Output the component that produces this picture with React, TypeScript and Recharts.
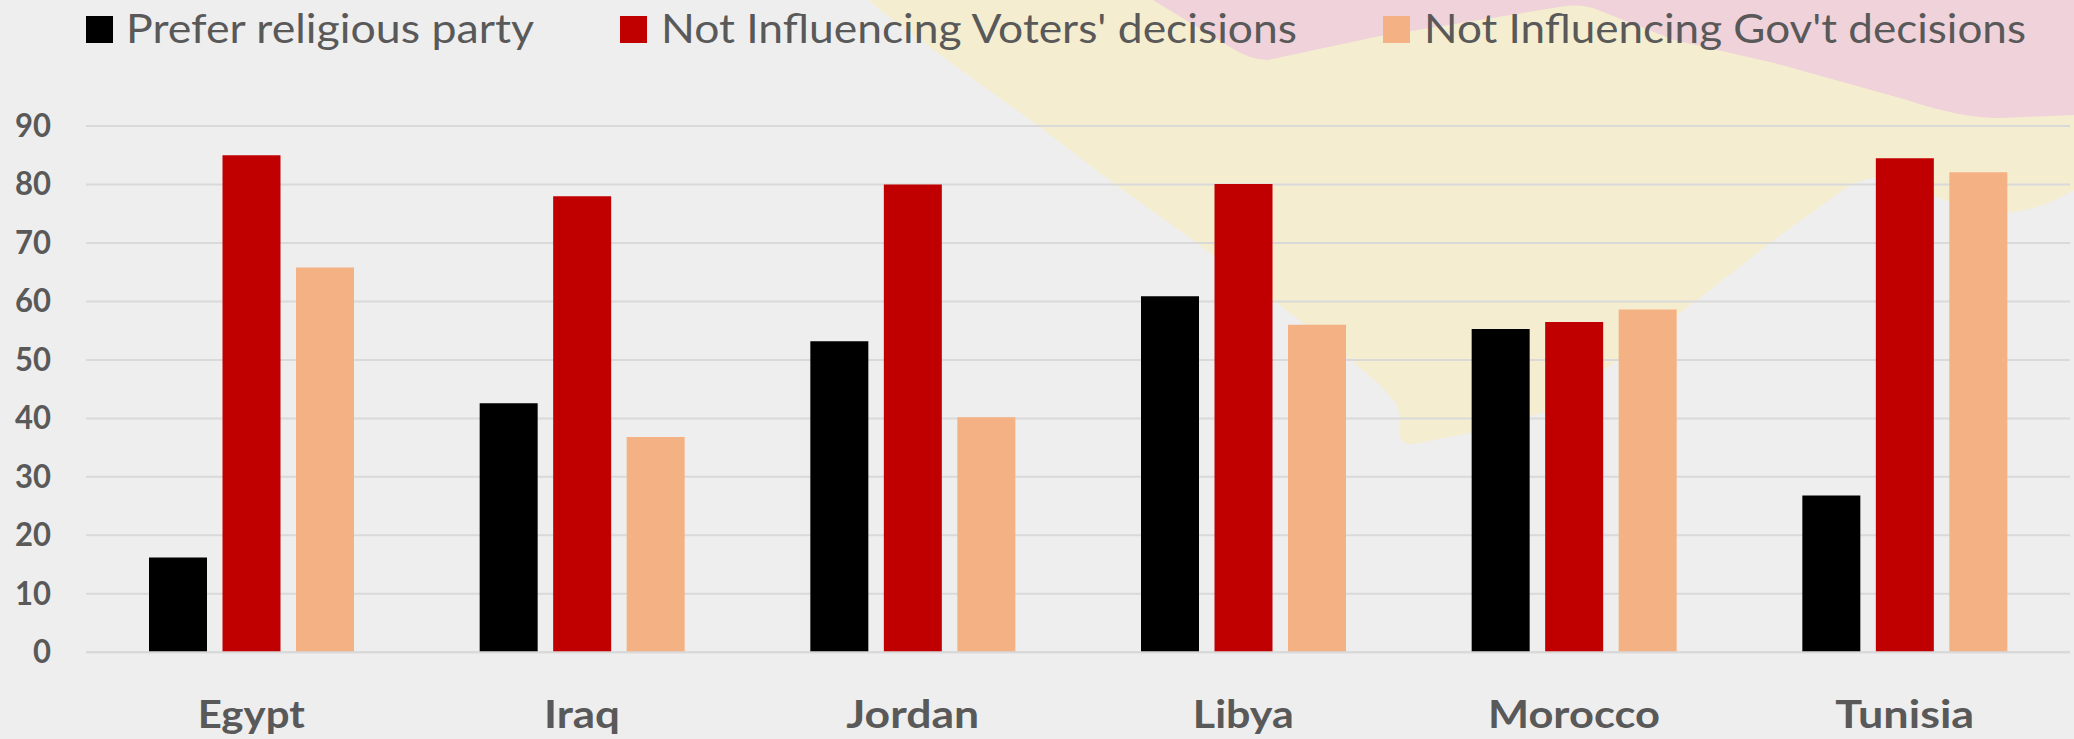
import { Bar, BarChart, CartesianGrid, XAxis, YAxis } from "recharts";

const countries = ["Egypt", "Iraq", "Jordan", "Libya", "Morocco", "Tunisia"];
const preferReligious = [16.2, 42.6, 53.2, 60.9, 55.3, 26.8];
const notVoters = [85, 78, 80, 80.1, 56.5, 84.5];
const notGov = [65.8, 36.8, 40.2, 56, 58.6, 82.1];
const yTicks = [0, 10, 20, 30, 40, 50, 60, 70, 80, 90];

const seriesNames = ["Prefer religious party", "Not Influencing Voters' decisions", "Not Influencing Gov't decisions"];
const seriesColors = ["#000000", "#C00000", "#F4B183"];

const data = countries.map((country, i) => ({
  country,
  religious: preferReligious[i],
  voters: notVoters[i],
  gov: notGov[i],
}));

const FONT = "Lato, 'Open Sans', sans-serif";
const TEXT_COLOR = "#595959";

// label widths, the reference font is narrower than Lato
const xLabelWidths: Record<string, number> = { Egypt: 107, Iraq: 76, Jordan: 133, Libya: 101, Morocco: 172, Tunisia: 139 };
const legendItems = [
  { box: 86, text: 126, width: 408 },
  { box: 620, text: 661, width: 636 },
  { box: 1383, text: 1424, width: 602 },
];

// faded map shapes behind the plot
const yellowShape =
  "M869,0 L880,10 L947,60 L1040,127 L1113,183 L1193,240 L1273,300 L1347,357 L1380,385 L1396,403 Q1400,410 1400,437 Q1402,445 1413,444 L1470,433 L1545,412 L1618,360 L1697,300 L1774,240 L1847,187 Q1860,180 1874,178 L1937,197 Q1975,213 2007,213 Q2040,210 2074,190 L2074,0 Z";
const pinkShape =
  "M1153,0 L1230,47 Q1250,60 1268,60 L1380,36 L1498,17 L1565,6 Q1585,4 1598,10 L1674,40 L1774,63 L1907,100 Q1960,118 2000,118 L2074,115 L2074,0 Z";

function XTick({ x, y, payload }: any) {
  return (
    <text
      x={x}
      y={728}
      textAnchor="middle"
      fontFamily={FONT}
      fontWeight={700}
      fontSize={39}
      fill={TEXT_COLOR}
      textLength={xLabelWidths[payload.value]}
      lengthAdjust="spacingAndGlyphs"
    >
      {payload.value}
    </text>
  );
}

function YTick({ y, payload }: any) {
  return (
    <text
      x={51}
      y={y + 11}
      textAnchor="end"
      fontFamily={FONT}
      fontWeight={700}
      fontSize={32}
      fill={TEXT_COLOR}
      textLength={payload.value === 0 ? 18 : 36}
      lengthAdjust="spacingAndGlyphs"
    >
      {payload.value}
    </text>
  );
}

function LegendRow() {
  return (
    <g>
      {legendItems.map((item, i) => (
        <g key={seriesNames[i]}>
          <rect x={item.box} y={16} width={27} height={27} fill={seriesColors[i]} />
          <text
            x={item.text}
            y={43}
            fontFamily={FONT}
            fontSize={41}
            fill={TEXT_COLOR}
            textLength={item.width}
            lengthAdjust="spacingAndGlyphs"
          >
            {seriesNames[i]}
          </text>
        </g>
      ))}
    </g>
  );
}

export default function App() {
  return (
    <div style={{ position: "fixed", left: 0, top: 0, width: 2074, height: 739, background: "#EEEEEE", overflow: "hidden" }}>
      <svg width={2074} height={739} style={{ position: "absolute", left: 0, top: 0 }}>
        <path d={yellowShape} fill="#F5EDD0" />
        <path d={pinkShape} fill="#EFD2DA" />
      </svg>
      <div style={{ position: "absolute", left: 0, top: 0 }}>
        <BarChart
          width={2074}
          height={739}
          data={data}
          margin={{ top: 126, right: 4, bottom: 0, left: 0 }}
          barSize={58}
          barGap={15.5}
        >
          <CartesianGrid vertical={false} stroke="#D9D9D9" strokeWidth={2} />
          <XAxis
            dataKey="country"
            height={86.7}
            axisLine={{ stroke: "#D9D9D9", strokeWidth: 2 }}
            tickLine={false}
            tick={<XTick />}
            interval={0}
          />
          <YAxis
            width={86}
            domain={[0, 90]}
            ticks={yTicks}
            axisLine={false}
            tickLine={false}
            tick={<YTick />}
            interval={0}
          />
          <Bar dataKey="religious" name={seriesNames[0]} fill={seriesColors[0]} isAnimationActive={false} />
          <Bar dataKey="voters" name={seriesNames[1]} fill={seriesColors[1]} isAnimationActive={false} />
          <Bar dataKey="gov" name={seriesNames[2]} fill={seriesColors[2]} isAnimationActive={false} />
          <LegendRow />
        </BarChart>
      </div>
    </div>
  );
}
